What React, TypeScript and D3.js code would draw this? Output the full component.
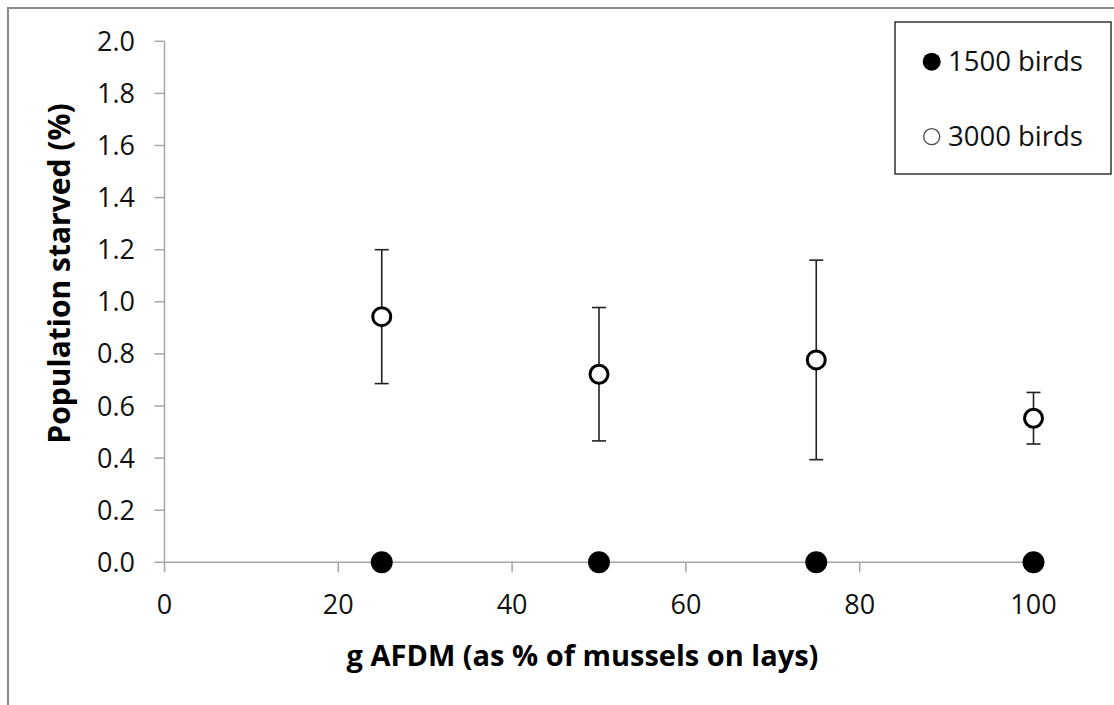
import React from 'react';
import * as d3 from 'd3';

// values
const musselLevels = [25, 50, 75, 100];
const starved1500 = [0, 0, 0, 0];
const starved3000 = [0.943, 0.722, 0.777, 0.553];
const error3000 = [0.257, 0.256, 0.383, 0.099];
const yTicks = [0, 0.2, 0.4, 0.6, 0.8, 1.0, 1.2, 1.4, 1.6, 1.8, 2.0];
const xTicks = [0, 20, 40, 60, 80, 100];

const WIDTH = 1114;
const HEIGHT = 705;
const FONT = '"Open Sans", "Liberation Sans", sans-serif';

export default function App() {
  const plot = { left: 164.5, right: 1033.5, top: 41.3, bottom: 562.3 };

  const xScale = d3.scaleLinear().domain([0, 100]).range([plot.left, plot.right]);
  const yScale = d3.scaleLinear().domain([0, 2]).range([plot.bottom, plot.top]);

  const axisColor = '#a6a6a6';
  const capHalf = 7;

  return (
    <svg
      width={WIDTH}
      height={HEIGHT}
      style={{ position: 'absolute', left: 0, top: 0, background: '#fff' }}
      fontFamily={FONT}
    >
      {/* chart frame, cut off at right and bottom like the reference */}
      <rect x={8} y={8} width={1300} height={900} fill="none" stroke="#8a8a8a" strokeWidth={2} />

      {/* y axis */}
      <line x1={plot.left} x2={plot.left} y1={plot.top} y2={plot.bottom} stroke={axisColor} strokeWidth={1.5} />
      {yTicks.map(t => (
        <g key={t}>
          <line x1={plot.left - 10} x2={plot.left} y1={yScale(t)} y2={yScale(t)} stroke={axisColor} strokeWidth={1.5} />
          <text x={135} y={yScale(t) + 9.5} textAnchor="end" fontSize={27} fill="#111">
            {d3.format('.1f')(t)}
          </text>
        </g>
      ))}

      {/* x axis */}
      <line x1={plot.left} x2={plot.right} y1={plot.bottom} y2={plot.bottom} stroke={axisColor} strokeWidth={1.5} />
      {xTicks.map(t => (
        <g key={t}>
          <line x1={xScale(t)} x2={xScale(t)} y1={plot.bottom} y2={plot.bottom + 10} stroke={axisColor} strokeWidth={1.5} />
          <text x={xScale(t)} y={613.5} textAnchor="middle" fontSize={27} fill="#111">
            {t}
          </text>
        </g>
      ))}

      {/* axis titles */}
      <text x={582.5} y={666} textAnchor="middle" fontSize={29} fontWeight="bold" fill="#000">
        g AFDM (as % of mussels on lays)
      </text>
      <text
        transform="translate(70,273.5) rotate(-90)"
        textAnchor="middle"
        fontSize={30}
        fontWeight="bold"
        fill="#000"
      >
        Population starved (%)
      </text>

      {/* error bars for 3000 birds */}
      {musselLevels.map((m, i) => {
        const x = xScale(m);
        const y0 = yScale(starved3000[i] - error3000[i]);
        const y1 = yScale(starved3000[i] + error3000[i]);
        return (
          <g key={'err' + m} stroke="#222" strokeWidth={1.6}>
            <line x1={x} x2={x} y1={y0} y2={y1} />
            <line x1={x - capHalf} x2={x + capHalf} y1={y0} y2={y0} />
            <line x1={x - capHalf} x2={x + capHalf} y1={y1} y2={y1} />
          </g>
        );
      })}

      {/* 3000 birds: open circles */}
      {musselLevels.map((m, i) => (
        <circle key={'o' + m} cx={xScale(m)} cy={yScale(starved3000[i])} r={9} fill="#fff" stroke="#000" strokeWidth={3} />
      ))}

      {/* 1500 birds: filled circles */}
      {musselLevels.map((m, i) => (
        <circle key={'f' + m} cx={xScale(m)} cy={yScale(starved1500[i])} r={11} fill="#000" />
      ))}

      {/* legend */}
      <rect x={895} y={22} width={216} height={152} fill="#fff" stroke="#000" strokeWidth={1.2} />
      <circle cx={931.7} cy={61.7} r={9} fill="#000" />
      <text x={948} y={70.5} fontSize={27.5} fill="#111">1500 birds</text>
      <circle cx={931.7} cy={136.7} r={8} fill="#fff" stroke="#444" strokeWidth={1.3} />
      <text x={948} y={145.5} fontSize={27.5} fill="#111">3000 birds</text>
    </svg>
  );
}
